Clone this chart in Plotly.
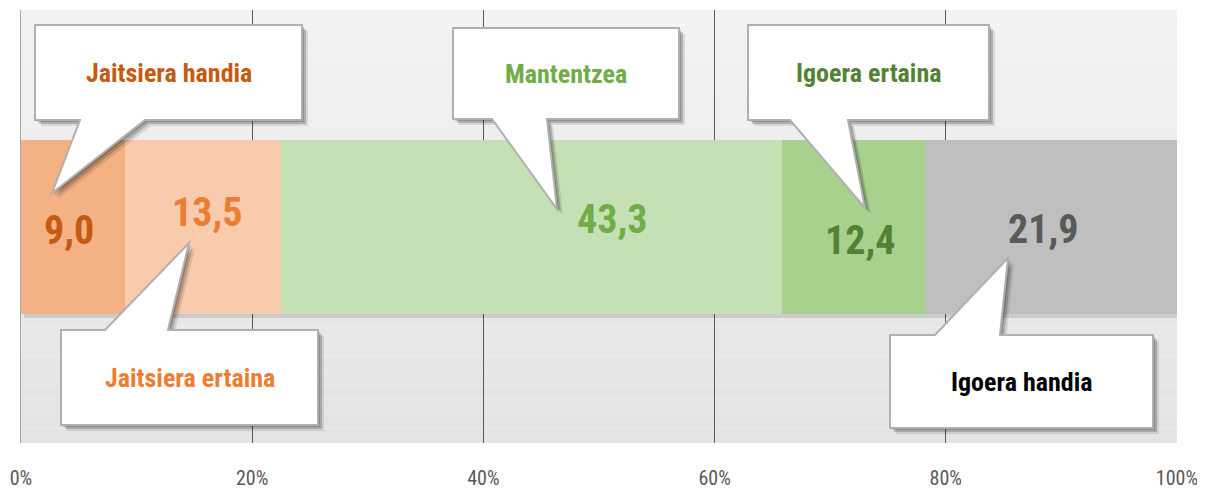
import plotly.graph_objects as go

# ── Data ─────────────────────────────────────────────────────────────────────
categories = ["Jaitsiera handia", "Jaitsiera ertaina", "Mantentzea",
              "Igoera ertaina", "Igoera handia"]
values = [9.0, 13.5, 43.3, 12.4, 21.9]
tick_vals = [0, 20, 40, 60, 80, 100]
tick_text = ["0%", "20%", "40%", "60%", "80%", "100%"]

# ── Style ────────────────────────────────────────────────────────────────────
# page body has an 8px margin, so the figure is shrunk by that much
PAGE_OFF = 8
W, H = 1205 - PAGE_OFF, 490 - PAGE_OFF
PX0, PX1, PY0, PY1 = 21, 1177, 10, 443          # plot area on screen
M_L, M_T = PX0 - PAGE_OFF, PY0 - PAGE_OFF
M_R, M_B = W - (PX1 - PAGE_OFF), H - (PY1 - PAGE_OFF)
PW, PH = PX1 - PX0, PY1 - PY0

FONT = "Roboto Condensed, Liberation Sans Narrow, DejaVu Sans Condensed, Roboto, sans-serif"
BAR_COLORS = ["#f4b183", "#f8cbad", "#c5e0b4", "#a9d18e", "#bfbfbf"]
TEXT_COLORS = ["#c55a11", "#ed7d31", "#70ad47", "#548235", "#595959"]
CALLOUT_TEXT = ["#c55a11", "#ed7d31", "#70ad47", "#548235", "#000000"]

# value label placement (screen pixels)
LABEL_PX = [(69, 230), (207, 212), (612, 219), (860, 240), (1043, 229)]

# callouts: box (x0, y0, x1, y1), pointer base (b1, b2), tip (tx, ty), screen pixels
CALLOUTS = [
    ((35, 25, 302, 120), (80, 145), (52, 193)),
    ((61, 330, 318, 425), (105, 168), (189, 243)),
    ((453, 28, 679, 119), (492, 547), (557, 209)),
    ((748, 25, 989, 120), (790, 848), (865, 208)),
    ((890, 335, 1153, 428), (935, 1000), (1008, 258)),
]


def px_x(px):
    return (px - PX0) / PW * 100


def px_y(py):
    return 1 - (py - PY0) / PH * 2


fig = go.Figure()

# ── Stacked bar ──────────────────────────────────────────────────────────────
for cat, val, col in zip(categories, values, BAR_COLORS):
    fig.add_trace(go.Bar(
        x=[val], y=[0], orientation="h", name=cat,
        marker=dict(color=col, line=dict(width=0)),
        width=174 / PH * 2, hoverinfo="x+name", showlegend=False,
    ))

# ── Background gradient (below gridlines) ────────────────────────────────────
n_strips = 30
c_top, c_bot = (242, 242, 242), (228, 228, 228)
for i in range(n_strips):
    t = i / (n_strips - 1)
    c = tuple(round(a + (b - a) * t) for a, b in zip(c_top, c_bot))
    fig.add_shape(
        type="rect", xref="paper", yref="paper",
        x0=0, x1=1, y0=1 - (i + 1) / n_strips, y1=1 - i / n_strips,
        fillcolor=f"rgb{c}", line=dict(width=0), layer="below",
    )

# bar drop shadow
total = sum(values)
fig.add_shape(
    type="rect", xref="x", yref="y",
    x0=px_x(PX0 + 3), x1=total, y0=px_y(313 + 5), y1=px_y(313),
    fillcolor="rgba(0,0,0,0.12)", line=dict(width=0), layer="between",
)

# ── Value labels ─────────────────────────────────────────────────────────────
for val, col, (lx, ly) in zip(values, TEXT_COLORS, LABEL_PX):
    fig.add_annotation(
        x=px_x(lx), y=px_y(ly), xref="x", yref="y",
        text=f"<b>{val:.1f}</b>".replace(".", ","),
        showarrow=False, font=dict(family=FONT, size=40, color=col),
    )


# ── Callouts ─────────────────────────────────────────────────────────────────
def callout_path(box, base, tip, dx=0, dy=0):
    x0, y0, x1, y1 = box
    b1, b2 = base
    tx, ty = tip
    if ty > y1:   # pointer downwards
        pts = [(x0, y0), (x1, y0), (x1, y1), (b2, y1), (tx, ty), (b1, y1), (x0, y1)]
    else:         # pointer upwards
        pts = [(x0, y0), (b1, y0), (tx, ty), (b2, y0), (x1, y0), (x1, y1), (x0, y1)]
    return "M " + " L ".join(f"{px_x(px + dx):.3f},{px_y(py + dy):.4f}"
                             for px, py in pts) + " Z"


for cat, col, (box, base, tip) in zip(categories, CALLOUT_TEXT, CALLOUTS):
    for off, alpha in [(6, 0.10), (4, 0.18), (2, 0.18)]:
        fig.add_shape(type="path", xref="x", yref="y",
                      path=callout_path(box, base, tip, off, off),
                      fillcolor=f"rgba(0,0,0,{alpha})", line=dict(width=0))
    fig.add_shape(type="path", xref="x", yref="y",
                  path=callout_path(box, base, tip),
                  fillcolor="white", line=dict(color="#b0b0b0", width=2))
    x0, y0, x1, y1 = box
    fig.add_annotation(
        x=px_x((x0 + x1) / 2), y=px_y((y0 + y1) / 2), xref="x", yref="y",
        text=f"<b>{cat}</b>", showarrow=False,
        font=dict(family=FONT, size=26, color=col),
    )

# ── Layout ───────────────────────────────────────────────────────────────────
fig.update_layout(
    barmode="stack", width=W, height=H,
    margin=dict(l=M_L, r=M_R, t=M_T, b=M_B, autoexpand=False),
    paper_bgcolor="white", plot_bgcolor="rgba(0,0,0,0)",
    font=dict(family=FONT),
    xaxis=dict(range=[0, 100], tickvals=tick_vals, ticktext=tick_text,
               showgrid=True, gridcolor="#595959", gridwidth=1,
               zeroline=False, showline=False, ticks="",
               tickfont=dict(size=20, color="#595959"),
               ticklabelstandoff=21),
    yaxis=dict(range=[-1, 1], showgrid=False, zeroline=False,
               showticklabels=False, showline=True, linecolor="#a6a6a6",
               linewidth=1),
    bargap=0,
)

fig.write_html("out.html")
